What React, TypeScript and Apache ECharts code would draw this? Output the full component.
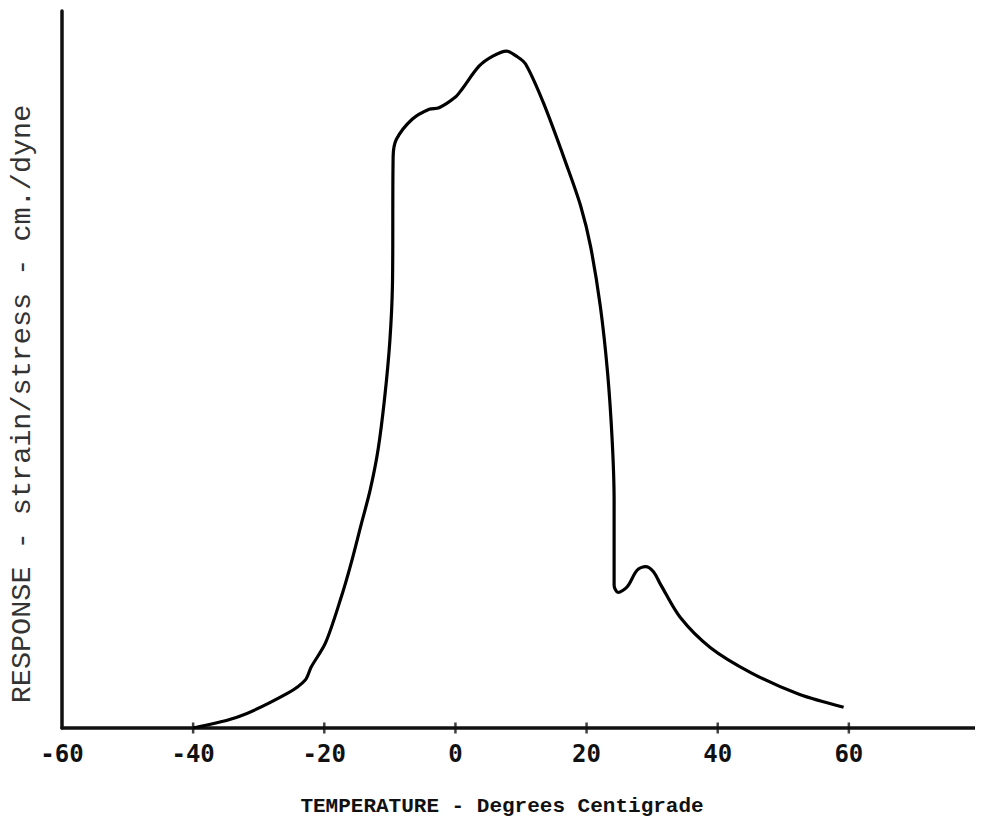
import React, { useEffect, useRef } from "react";
import * as echarts from "echarts";

const temperatures = [
  -40, -33, -25.5, -22.9, -22.0, -19.8, -17.4, -15.9, -14.4, -13.0, -11.8, -10.8, -10.0, -9.6,
  -9.5, -9.0, -6.6, -4.0, -2.5, 0.0, 1.0, 3.6, 5.7, 7.8, 9.3, 10.7, 13.5, 17.0, 19.1,
  20.6, 22.1, 23.2, 23.9, 24.2, 24.2, 24.8, 26.2, 27.7, 29.0, 30.2, 31.3, 34.3, 38.9, 45.1,
  52.4, 59.2,
];
const responses = [
  0, 1.6, 4.9, 6.7, 8.5, 11.9, 18.3, 23.0, 28.3, 33.2, 38.8, 46.0, 54.0, 62.0,
  79.7, 82.1, 84.9, 86.3, 86.5, 88.0, 89.1, 92.3, 93.7, 94.4, 93.7, 92.6, 87.0, 78.4, 72.8,
  67.2, 58.8, 49.6, 40.2, 31.8, 19.9, 18.9, 19.7, 22.0, 22.5, 21.8, 20.0, 15.4, 11.2, 7.7,
  4.7, 2.9,
];
const xTicks = [-60, -40, -20, 0, 20, 40, 60];
const tickMarks = [-40, -20, 0, 20, 40, 60];
const xTitle = "TEMPERATURE - Degrees Centigrade";
const yTitle = "RESPONSE - strain/stress - cm./dyne";

export default function App() {
  const ref = useRef<HTMLDivElement>(null);
  useEffect(() => {
    if (!ref.current) return;
    const chart = echarts.init(ref.current, null, { renderer: "svg" });
    const mono = "'Liberation Mono', 'DejaVu Sans Mono', monospace";
    const sansMono = "'DejaVu Sans Mono', 'Liberation Mono', monospace";
    const fmt = (v: number) => (xTicks.indexOf(v) >= 0 ? String(v) : "");
    chart.setOption({
      animation: false,
      backgroundColor: "#ffffff",
      grid: { left: 62, width: 924, top: 11, bottom: 93, containLabel: false },
      xAxis: {
        type: "value",
        min: -60,
        max: 80,
        interval: 20,
        position: "bottom",
        splitLine: { show: false },
        axisLine: { show: true, onZero: false, lineStyle: { color: "#111", width: 3.5 } },
        axisTick: { show: false },
        axisLabel: {
          show: true,
          margin: 14,
          color: "#111",
          fontFamily: sansMono,
          fontWeight: "bold",
          fontSize: 24,
          formatter: fmt,
        },
      },
      yAxis: {
        type: "value",
        min: 0,
        max: 100,
        splitLine: { show: false },
        axisLine: { show: true, onZero: false, lineStyle: { color: "#111", width: 3.5 } },
        axisTick: { show: false },
        axisLabel: { show: false },
      },
      graphic: [
        {
          type: "text",
          x: 502,
          y: 806,
          style: {
            text: xTitle,
            fill: "#111",
            font: `bold 21px ${mono}`,
            align: "center",
            verticalAlign: "middle",
          },
        },
        {
          type: "text",
          x: 22,
          y: 404,
          rotation: Math.PI / 2,
          style: {
            text: yTitle,
            fill: "#333",
            font: `28.5px ${mono}`,
            align: "center",
            verticalAlign: "middle",
          },
        },
      ],
      series: [
        {
          type: "line",
          data: temperatures.map((t, i) => [t, responses[i]]),
          showSymbol: false,
          smooth: 0.3,
          lineStyle: { color: "#000", width: 3.2 },
        },
        {
          type: "scatter",
          data: tickMarks.map((t) => [t, 0]),
          symbol: "rect",
          symbolSize: [2.5, 11],
          clip: false,
          itemStyle: { color: "#111" },
          silent: true,
        },
      ],
    });
    return () => chart.dispose();
  }, []);
  return <div ref={ref} style={{ width: 983, height: 821, marginLeft: -8, marginTop: -8 }} />;
}
